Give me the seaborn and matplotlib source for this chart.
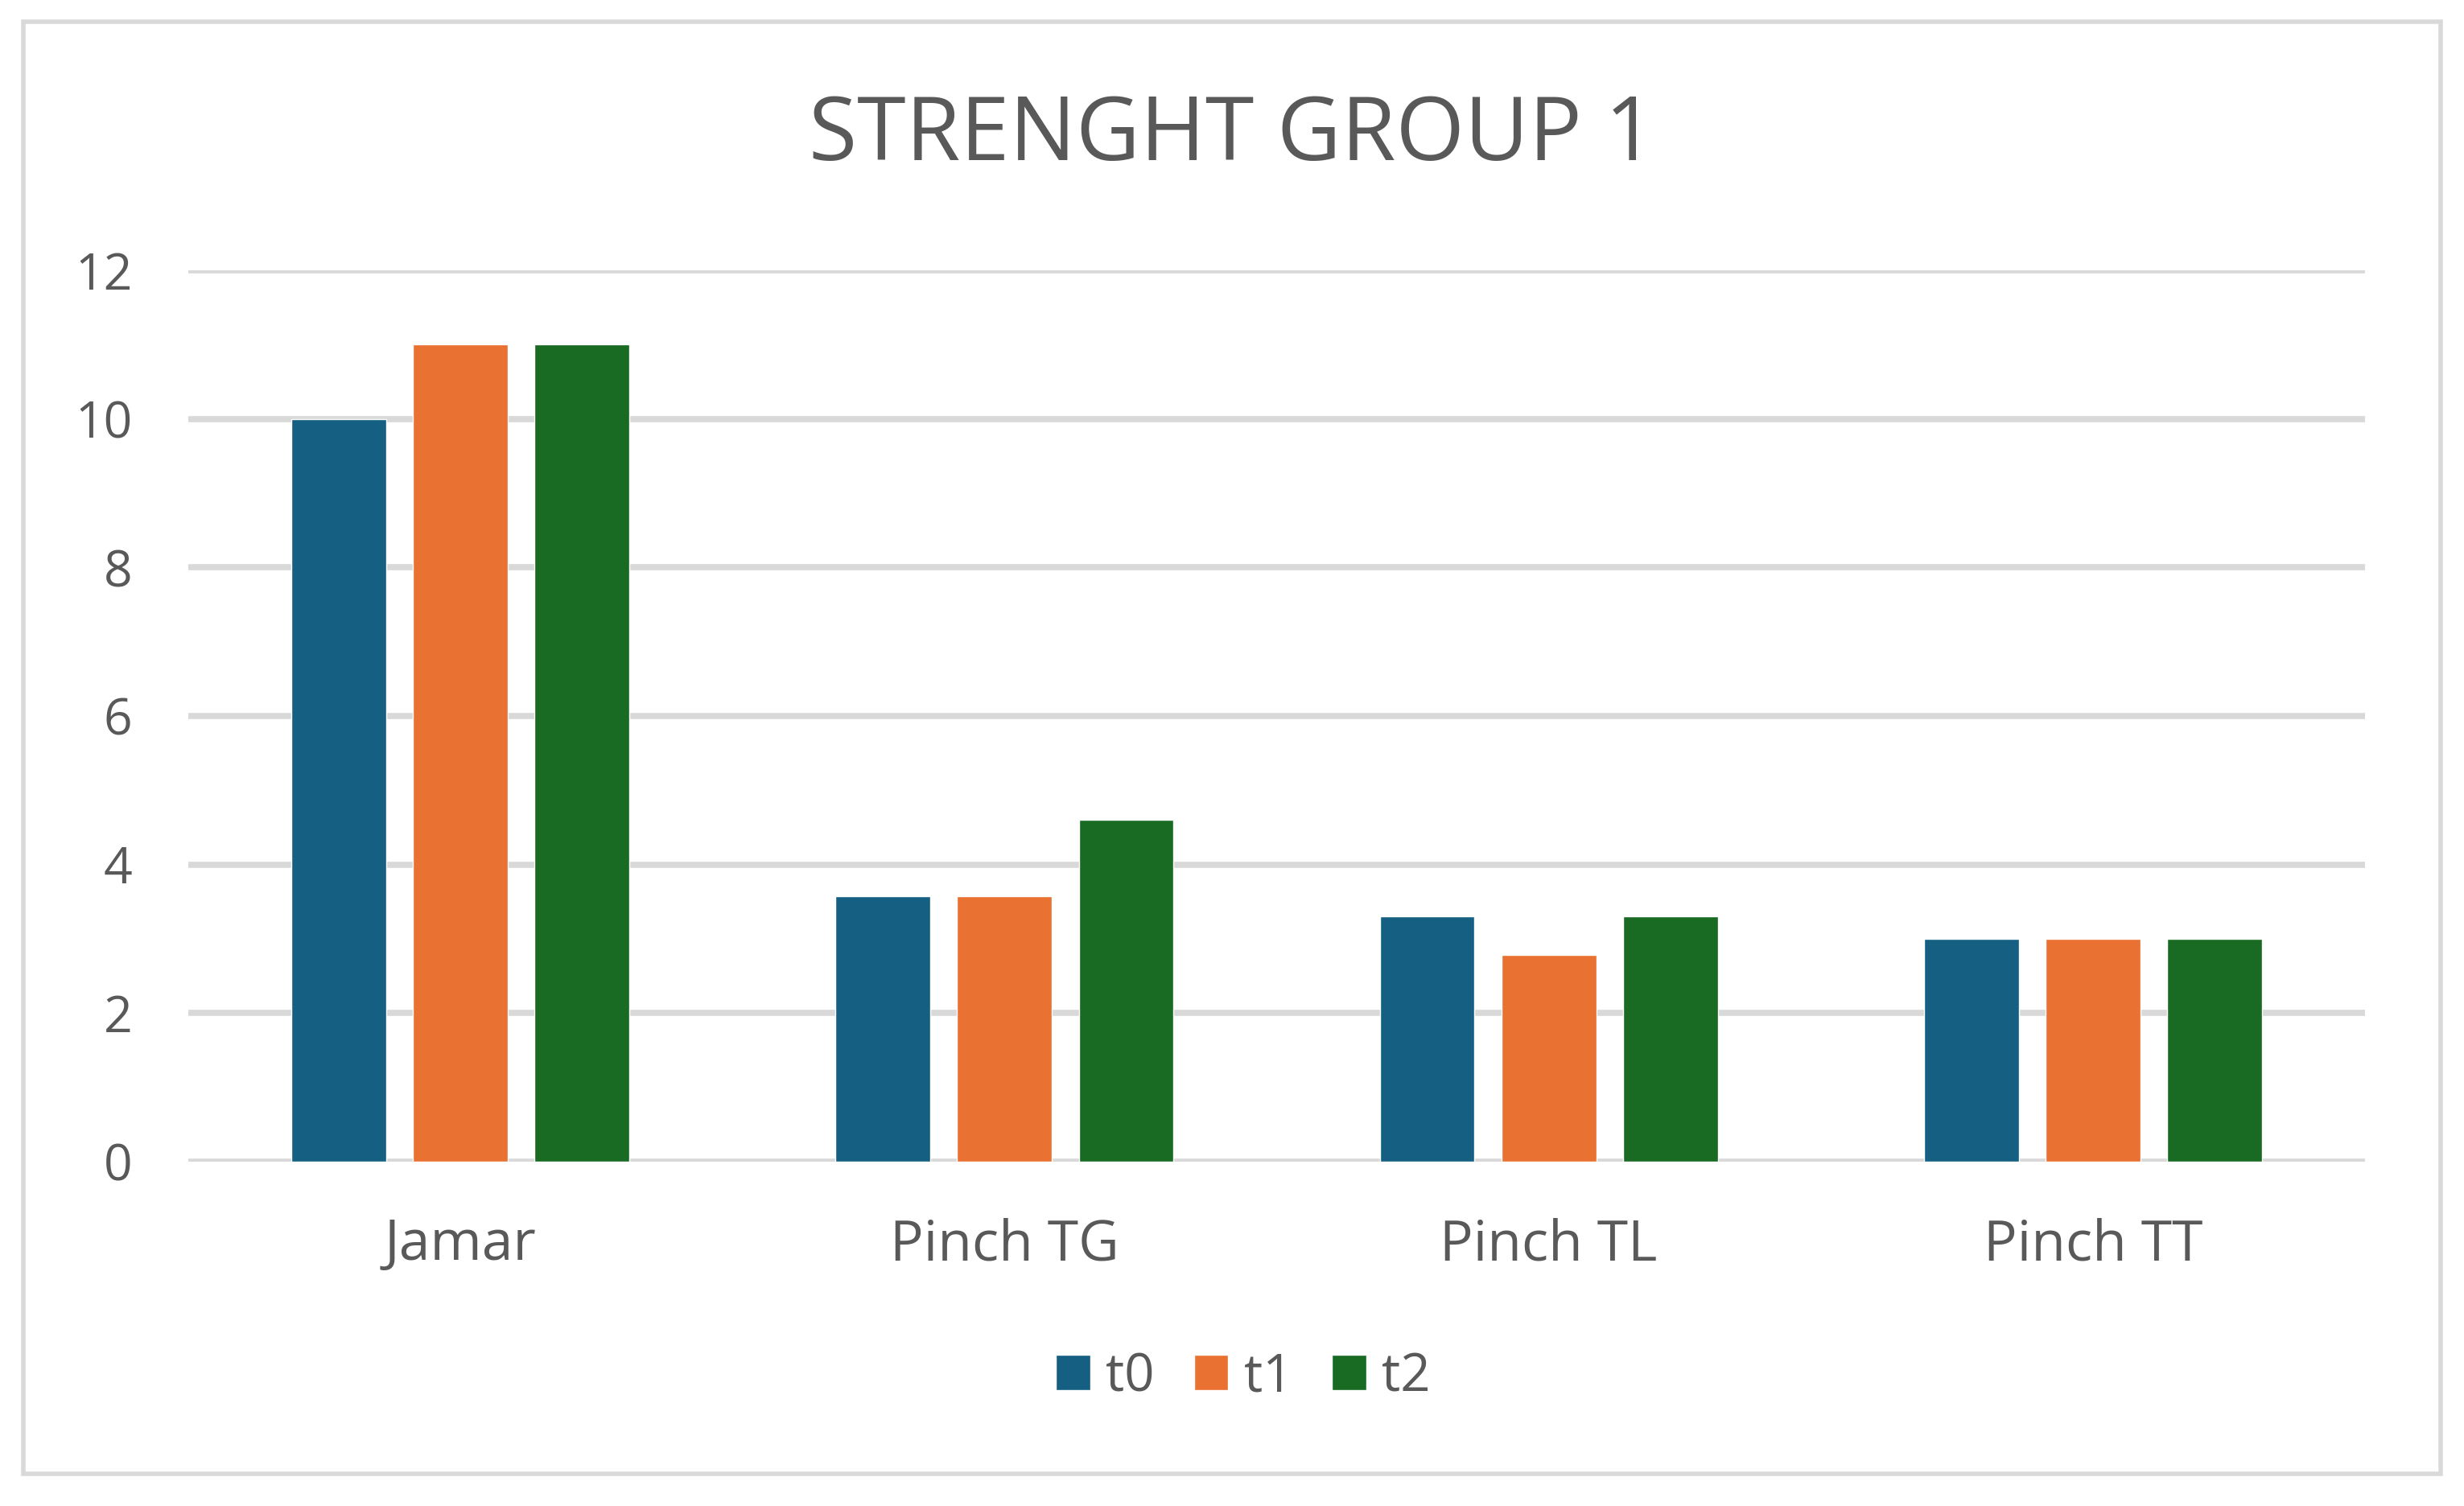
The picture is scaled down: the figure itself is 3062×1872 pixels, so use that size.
import matplotlib
matplotlib.use("Agg")
import matplotlib.pyplot as plt
import seaborn as sns
import pandas as pd
from matplotlib.patches import Rectangle

# data
categorias = ["Jamar", "Pinch TG", "Pinch TL", "Pinch TT"]
tiempos = ["t0", "t1", "t2"]
t0 = [10, 3.57, 3.3, 3]
t1 = [11, 3.57, 2.78, 3]
t2 = [11, 4.6, 3.3, 3]
colores = ["#156082", "#E97132", "#196B24"]

df = pd.DataFrame({
    "categoria": categorias * 3,
    "tiempo": [t for t in tiempos for _ in categorias],
    "valor": t0 + t1 + t2,
})

sns.set_style("white")
plt.rcParams['font.family'] = ['Open Sans', 'DejaVu Sans']
texto = "#595959"

fig = plt.figure(figsize=(30.62, 18.72), dpi=100)
ax = fig.add_axes([234 / 3062, 1 - 1444 / 1872, (2939 - 234) / 3062, (1444 - 336) / 1872])

sns.barplot(data=df, x="categoria", y="valor", hue="tiempo", palette=colores,
            width=0.67, gap=0.22, ax=ax, zorder=3, saturation=1)

ax.set_ylim(0, 12)
ax.set_yticks(range(0, 13, 2))
ax.grid(axis="y", color="#D9D9D9", linewidth=5.5, zorder=0)
ax.set_axisbelow(True)
for s in ax.spines.values():
    s.set_visible(False)
ax.set_xlabel("")
ax.set_ylabel("")
ax.tick_params(axis="y", labelsize=45, colors=texto, length=0, pad=50)
ax.tick_params(axis="x", labelsize=50, colors=texto, length=0, pad=50)

handles, labels = ax.get_legend_handles_labels()
ax.get_legend().remove()
fig.legend(handles, labels, loc="center", ncol=3, frameon=False,
           bbox_to_anchor=(1545 / 3062, 1 - 1712 / 1872), fontsize=47,
           labelcolor=texto, handlelength=0.65, handleheight=0.65,
           handletextpad=0.3, columnspacing=0.75)

fig.text(1531 / 3062, 1 - 170 / 1872, "STRENGHT GROUP 1", ha="center", va="center",
         fontsize=79, color=texto)

fig.patches.append(Rectangle((29 / 3062, 1 - 1832 / 1872), (3033 - 29) / 3062, (1832 - 27) / 1872,
                             transform=fig.transFigure, fill=False,
                             edgecolor="#D9D9D9", linewidth=4))

fig.savefig("out.png", dpi=100, facecolor="white")
